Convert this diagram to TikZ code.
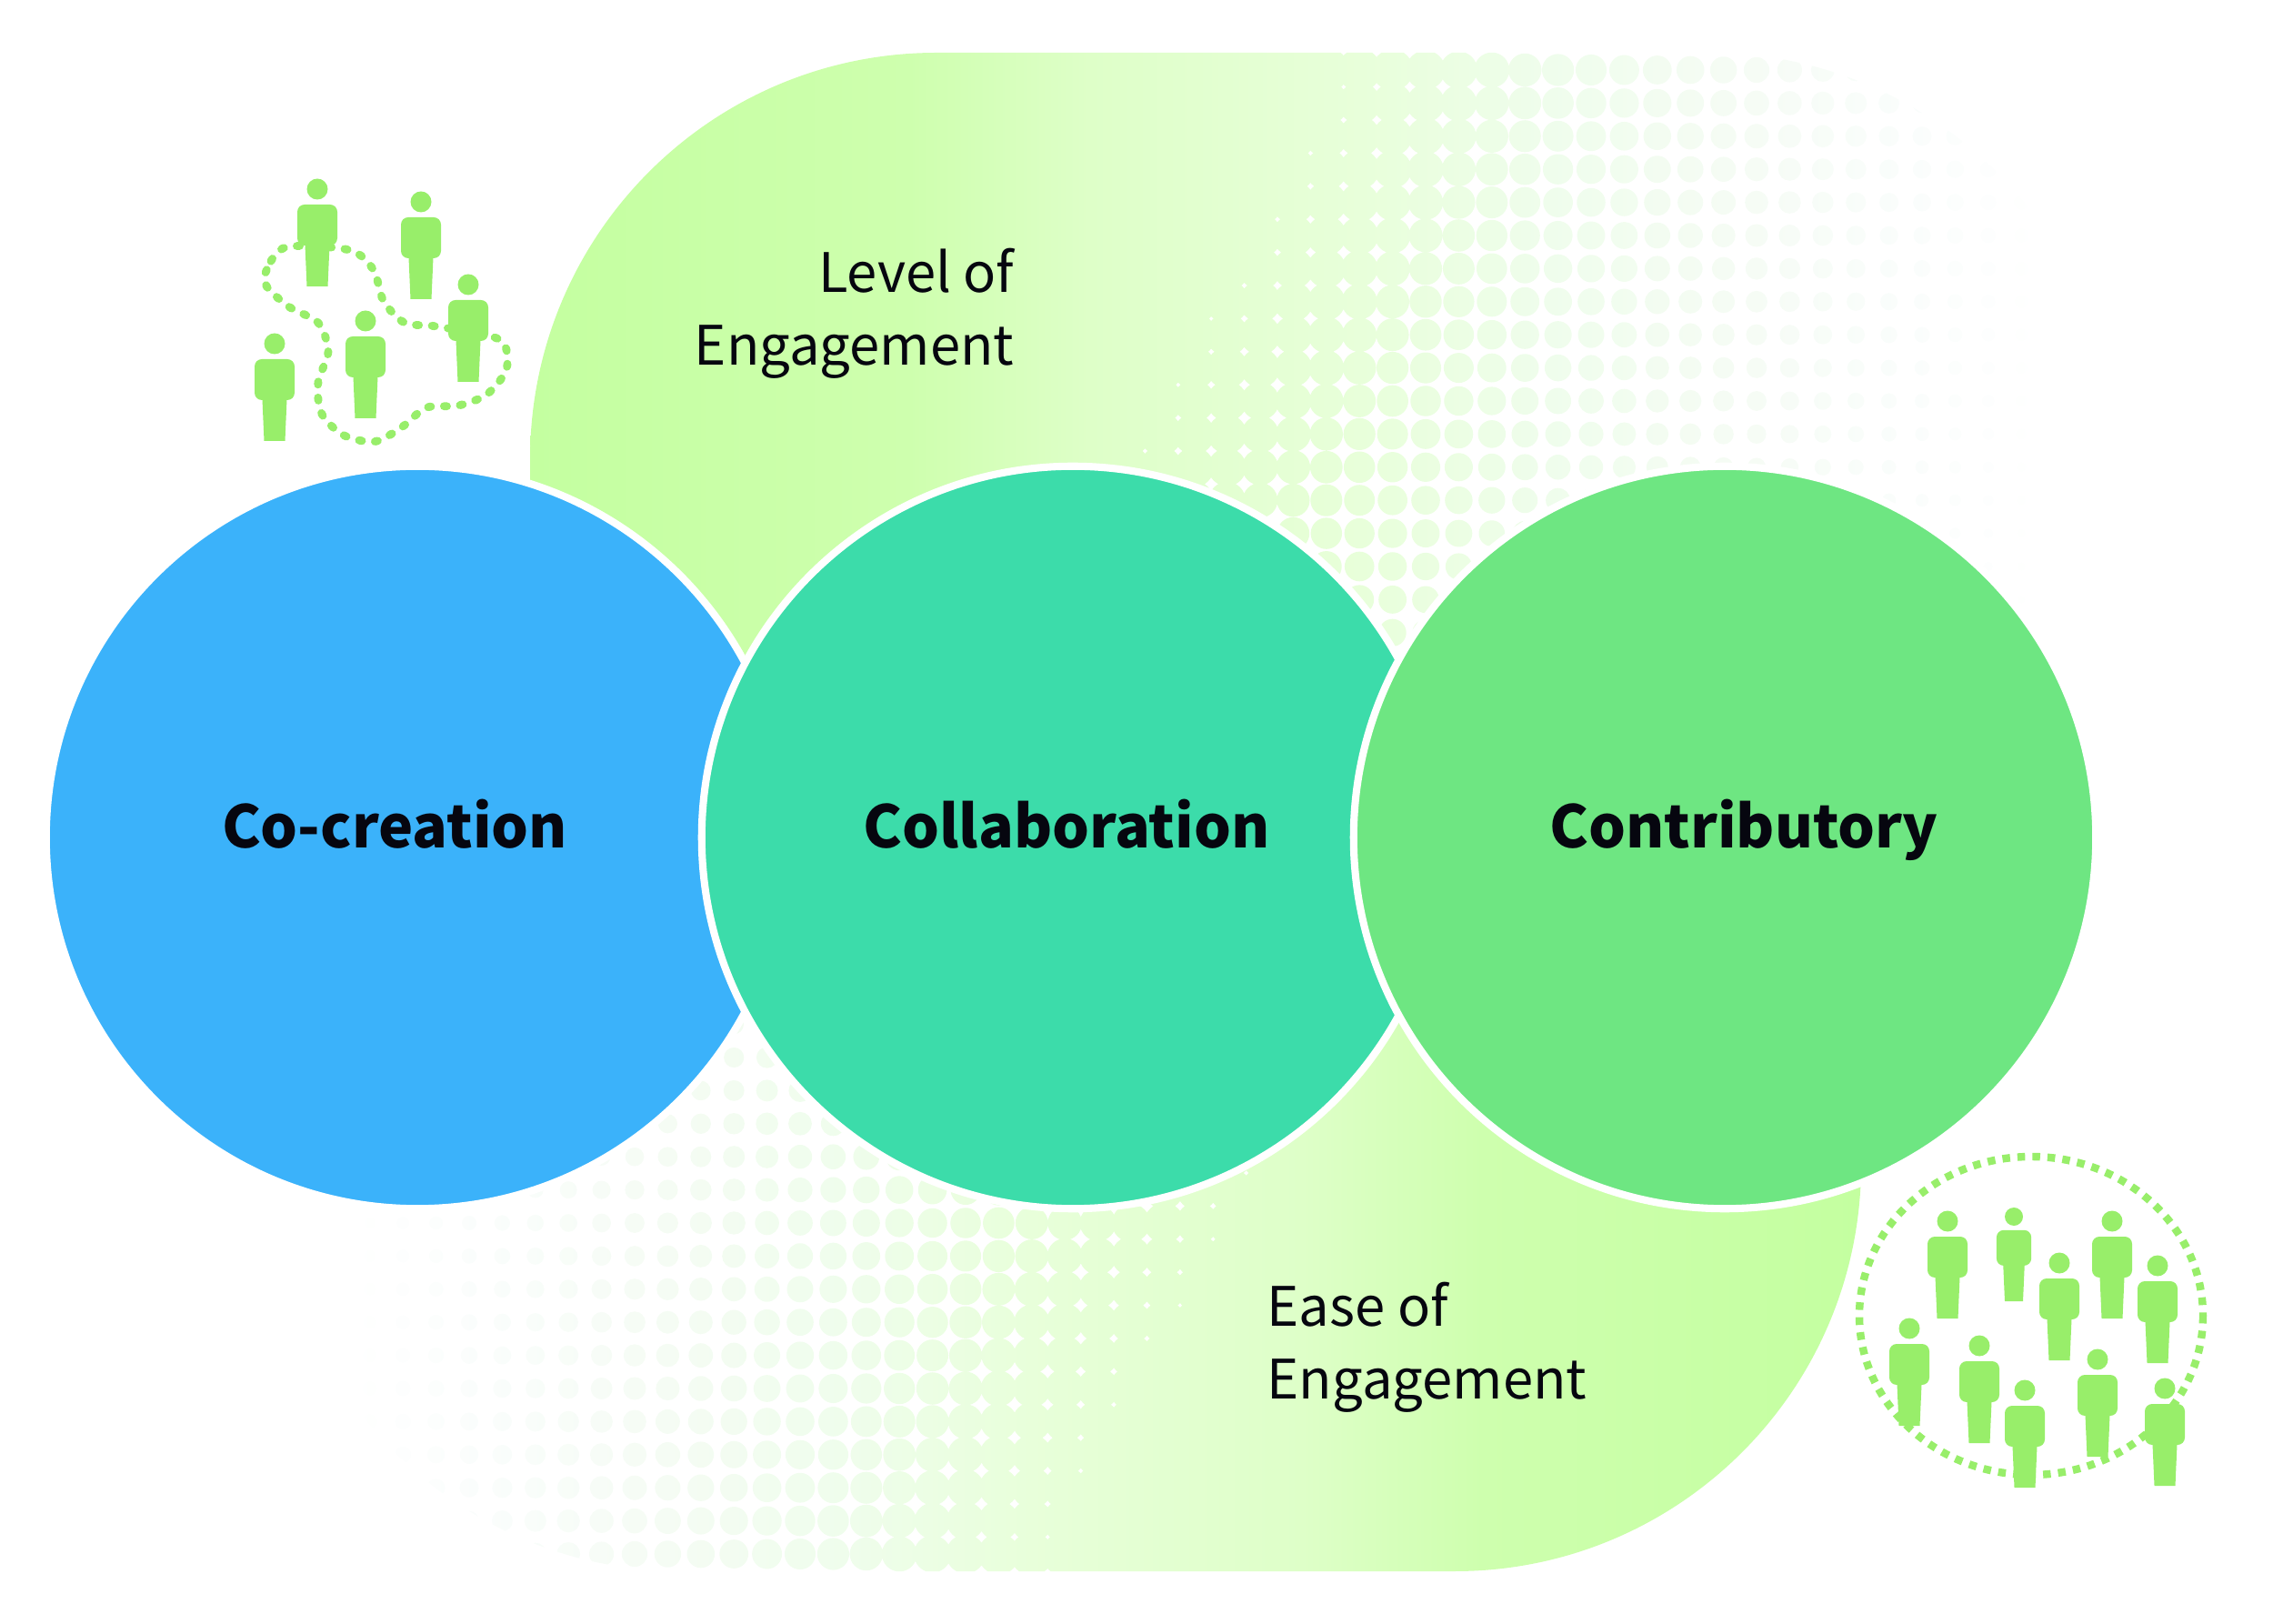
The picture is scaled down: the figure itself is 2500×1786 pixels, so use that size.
\documentclass[tikz,border=0pt]{standalone}
\usepackage{fontspec}
\setmainfont{Noto Sans CJK SC}

\definecolor{bandA}{HTML}{C4FFA0}
\definecolor{bandB}{HTML}{CEFFAE}
\definecolor{bandC}{HTML}{DEFFC8}
\definecolor{bandD}{HTML}{E8FFDA}
\definecolor{bandE}{HTML}{EFFDEC}
\definecolor{bandF}{HTML}{F5FCF4}
\definecolor{bandG}{HTML}{FAFDFC}
\definecolor{cocreationblue}{HTML}{3BB2FA}
\definecolor{collabteal}{HTML}{3CDCAA}
\definecolor{contribgreen}{HTML}{6EE682}
\definecolor{personfill}{HTML}{98EE6A}
\definecolor{inktext}{HTML}{06060F}

\pgfdeclarehorizontalshading{bandfade}{100bp}{
  color(0bp)=(bandA); color(25bp)=(bandA); color(36.85bp)=(bandB);
  color(42.5bp)=(bandC); color(51bp)=(bandD); color(56.8bp)=(bandE);
  color(62.5bp)=(bandF); color(68.15bp)=(bandG); color(72.5bp)=(white);
  color(100bp)=(white)}

\tikzset{
  person/.pic={
    \fill[personfill] (0,0) circle (11.5);
    \fill[personfill, rounded corners=0.8mm] (-22,17) rectangle (22,62);
    \fill[personfill] (-14,50) -- (-11.5,107) -- (11.5,107) -- (14,50) -- cycle;
  },
  bubble/.style={circle, draw=white, line width=2.3pt, minimum size=8.16cm, inner sep=0pt},
  bigname/.style={inner sep=0pt, anchor=base, text=inktext, font=\fontsize{18.3}{24}\selectfont\bfseries},
  axisname/.style={inner sep=0pt, text=inktext, font=\fontsize{17}{22.8}\selectfont},
  dotloop/.style={draw=personfill, line width=2.5pt, line cap=round, dash pattern=on 0.9pt off 4.1pt},
  dotring/.style={draw=personfill, line width=2.4pt, dash pattern=on 2.4pt off 2.3pt},
}

% One band with its halftone edge, drawn for the upper position
\newcommand{\halftoneband}[1]{
  \begin{scope}
    \clip (583,950) -- (583,505) arc (180:270:447) -- (1880,58) arc (270:360:447) -- (2327,950) -- cycle;
    \clip (500,0) -- (1204,0) -- (1204,950) -- (500,950) -- cycle
      \foreach \i [evaluate=\i as \cx using {1204+36.4*\i}] in {0,...,31} {
        \foreach \j [evaluate=\j as \cy using {77+36.4*\j},
                     evaluate=\j as \u using {\cx+0.55*(\cy-96)-1441},
                     evaluate=\j as \r using {\u<0 ? 30 : (\u<224 ? 25-0.03*\u : max(2,18.25-0.016*(\u-224)))}] in {0,...,24} {
          (\cx,\cy) circle (\r)
        }
      };
    \shade[shading=bandfade, shading angle=#1] (583,58) rectangle (2340,950);
  \end{scope}
}

\begin{document}
\begin{tikzpicture}[x=0.01cm, y=-0.01cm]
  \useasboundingbox (0,0) rectangle (2500,1786);

  % Bands
  \halftoneband{0}
  \begin{scope}[rotate around={180:(1315,893)}]
    \halftoneband{180}
  \end{scope}

  % Circles
  \node[bubble, fill=cocreationblue] (cocreation) at (459,921) {};
  \node[bubble, fill=collabteal] (collaboration) at (1180,921) {};
  \node[bubble, fill=contribgreen] (contributory) at (1897,921) {};

  \node[bigname] (cocreationname) at (434,933) {Co-creation};
  \node[bigname] (collaborationname) at (1173,933) {Collaboration};
  \node[bigname] (contributoryname) at (1918,933) {Contributory};

  \node[axisname, align=right, anchor=east] (levelname) at (1116,345) {Level of\\Engagement};
  \node[axisname, align=left, anchor=west] (easename) at (1393,1482) {Ease of\\Engagement};

  % Small group
  \draw[dotloop] plot[smooth cycle] coordinates {(315,271.7) (293.3,296.7) (293.3,315) (318.3,337.7)
    (350,355) (361,386.7) (350,420) (353.3,454) (377.3,478.3) (411.7,485.7) (441.7,470)
    (469,448.3) (504.3,446) (536,433.3) (557.3,405) (549,373.3) (480,359) (445,355)
    (421.7,330.7) (410.7,296.7) (384.3,275)};
  \foreach \px/\py in {349/208, 463/222, 515/313, 402/353, 302/378}
    \pic at (\px,\py) {person};

  % Large group
  \draw[dotring] (2234,1447) ellipse (189 and 175);
  \foreach \px/\py in {2142/1343, 2323/1343, 2265/1389, 2373/1392, 2100/1461, 2177/1480, 2227/1529, 2307/1495, 2381/1527}
    \pic at (\px,\py) {person};
  \pic[scale=0.87] at (2215,1338) {person};
\end{tikzpicture}
\end{document}
